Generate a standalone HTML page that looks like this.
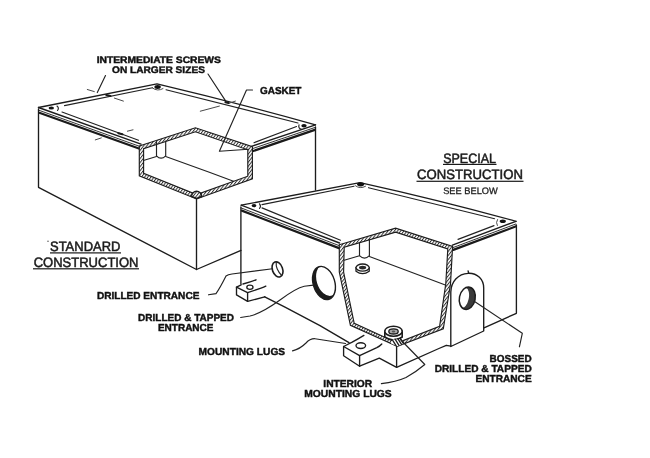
<!DOCTYPE html>
<html>
<head>
<meta charset="utf-8">
<title>Construction diagram</title>
<style>
html,body{margin:0;padding:0;background:#fff;}
body{width:650px;height:458px;overflow:hidden;font-family:"Liberation Sans",sans-serif;}
svg{display:block;filter:grayscale(1);}
.l{fill:none;stroke:#1c1c1c;stroke-width:1.35;stroke-linecap:round;stroke-linejoin:round;}
.t{fill:none;stroke:#222;stroke-width:1.15;stroke-linecap:round;stroke-linejoin:round;}
.f{fill:none;stroke:#484848;stroke-width:1.0;stroke-linecap:round;}
.g{fill:none;stroke:#333;stroke-width:1.0;stroke-linecap:round;}
.k{fill:none;stroke:#1a1a1a;stroke-width:2.2;stroke-linecap:round;stroke-linejoin:round;}
.ring{fill:url(#h);fill-rule:evenodd;stroke:#1c1c1c;stroke-width:1.15;stroke-linejoin:miter;}
.band{fill:none;stroke:#222;stroke-width:3.4;stroke-linejoin:miter;}
.hatch{fill:none;stroke:#fff;stroke-width:1.4;stroke-dasharray:2 1.4;stroke-linejoin:miter;}
.b{font-family:"Liberation Sans",sans-serif;font-weight:bold;font-size:10.1px;fill:#111;stroke:#111;stroke-width:0.42;text-rendering:geometricPrecision;}
.c{font-family:"Liberation Sans",sans-serif;font-weight:normal;font-size:13.6px;fill:#1a1a1a;stroke:#1a1a1a;stroke-width:0.5;text-rendering:geometricPrecision;}
.s{font-family:"Liberation Sans",sans-serif;font-weight:normal;font-size:9.4px;fill:#222;stroke:#222;stroke-width:0.3;text-rendering:geometricPrecision;}
</style>
</head>
<body>
<svg width="650" height="458" viewBox="0 0 650 458">
<rect width="650" height="458" fill="#fff"/>
<defs>
  <pattern id="h" width="2.5" height="2.5" patternUnits="userSpaceOnUse" patternTransform="rotate(38)">
    <rect width="2.5" height="2.5" fill="#fff"/>
    <line x1="0.5" y1="0" x2="0.5" y2="2.5" stroke="#2a2a2a" stroke-width="0.95"/>
  </pattern>
</defs>

<!-- ================= LEFT BOX ================= -->
<g id="leftbox">
  <!-- lid outer edges -->
  <path class="l" d="M38.5 107.5 L157 83.9 Q236 102.6 315.5 124.8"/>
  <path class="l" d="M38.5 107.5 L141 144.2"/>
  <path class="l" d="M315.5 124.8 L251.5 146.3"/>
  <!-- lid thickness front-left -->
  <path class="g" d="M38.7 110.2 L140 146.5"/>
  <path class="k" d="M39.3 112.8 L139.6 148.7"/>
  <!-- lid thickness front-right -->
  <path class="g" d="M315.2 127.4 L252.6 148.6"/>
  <path class="k" d="M314.8 129.9 L253.2 151"/>
  <!-- inner lid lines -->
  <path class="t" d="M64.5 105.6 L152.5 87.8"/>
  <path class="t" d="M166 89.8 L298 123"/>
  <path class="t" d="M62 112 L138.5 140.3"/>
  <path class="t" d="M296.5 126.5 L254 142.7"/>
  <!-- body -->
  <path class="l" d="M38.5 109 L38.5 187.3 L196.5 269.5 L241 250.4"/>
  <path class="l" d="M196.5 199 L196.5 269.5"/>
  <path class="l" d="M315.5 127 L315.5 190"/>
  <!-- cutaway band -->
  <path class="ring" d="M139.3 146 L195.4 127.8 L252.4 146.6 L252.4 178.8 L196.6 199 L139.3 175.8 Z M143.6 148.6 L143.6 173.4 L196.6 194.6 L247.8 176.2 L247.8 149.8 L195.4 131.8 Z"/>
  <!-- interior -->
  <path class="t" d="M156.5 142.3 L156.5 155.8 Q161 160.5 165.7 155.8 L165.7 141"/>
  <path class="t" d="M144.2 160.2 L156.5 156.5"/>
  <path class="t" d="M165.7 156.5 L210 172.5 L233.5 181.2"/>
  <!-- front inner fillet -->
  <path d="M191.6 196.5 A5 5.2 0 0 1 201.6 196.5 L196.6 198.5 Z" fill="url(#h)" stroke="#1c1c1c" stroke-width="1.4"/>
  <!-- screws -->
  <ellipse cx="51.3" cy="108" rx="2.7" ry="1.6" fill="#111"/>
  <path class="t" d="M57 106 Q59.5 108 57.5 110.5"/>
  <ellipse cx="157.6" cy="87" rx="3.2" ry="1.9" fill="#111"/>
  <path class="f" d="M152.5 88 Q157.5 91.8 163 88.6"/>
  <ellipse cx="304" cy="125.8" rx="2.7" ry="1.8" fill="#111"/>
  <path class="t" d="M299 124.8 Q298 128.3 301.5 129.3"/>
</g>

<!-- centre-line marks, leaders for top labels -->
<g id="leaders-top">
  <path class="t" d="M105.5 75.5 L97.3 92.6"/>
  <path class="f" d="M87.3 89.5 L94.3 91.6 M114.4 98.1 L123.4 101.1"/>
  <path class="k" d="M106.3 95 L110.4 96"/>
  <path class="f" d="M95.3 139.9 L101.3 137.9 M127.4 131.2 L133 129.8"/>
  <path class="k" d="M118.4 133.3 L122.4 134.2"/>
  <path class="t" d="M208 74 L226.4 102.1"/>
  <path class="f" d="M200.3 111.2 L219.4 106.1 M229.4 103.1 L235.4 101.1"/>
  <path class="k" d="M225.5 102.2 L228.5 103"/>
  <!-- gasket leader -->
  <path class="t" d="M252.5 90 L246.5 90 L219.4 151.3 L248.5 149.3"/>
</g>

<!-- ================= RIGHT BOX ================= -->
<g id="rightbox">
  <!-- lid -->
  <path class="l" d="M241.2 205.2 L360 182.6 Q438 199.8 516 221.3"/>
  <path class="l" d="M241.2 205.2 L339.5 243"/>
  <path class="l" d="M516 221.3 L452.4 245.2"/>
  <path class="g" d="M241.3 208 L339.3 245.7"/>
  <path class="k" d="M241.8 210.6 L339 248.1"/>
  <path class="g" d="M515.8 224 L453 247.6"/>
  <path class="k" d="M515.5 226.5 L453.3 249.9"/>
  <!-- inner lid -->
  <path class="t" d="M262 204.6 L354 186.2"/>
  <path class="t" d="M368.5 187.7 L494.6 218.7"/>
  <path class="t" d="M262 207.9 L340.5 240.2"/>
  <path class="t" d="M494 225.6 L458 239.4"/>
  <!-- body -->
  <path class="l" d="M240.9 207 L240.9 284"/>
  <path class="l" d="M516.4 225 L516.4 313.3 L484 327.8"/>
  <path class="l" d="M264.7 296.8 L285 307.2 L320 325.6 L349 342.6"/>
  <path class="l" d="M450.8 346.2 L446.3 345.3 L438.9 348.5 L396.6 367.3"/>
  <!-- cutaway band -->
  <path class="ring" d="M339.3 244.8 L395.6 228.2 L452.6 246.5 L450.5 284 L443.3 328.8 L397.3 346.3 L350.4 325.3 L339.3 272 Z M344.2 247.2 L343.6 272 L354.2 323.3 L397.3 342.9 L439.6 326.3 L445.8 283.5 L447.8 248.9 L395.6 232.2 Z"/>
  <!-- interior -->
  <path class="t" d="M359.5 242.3 L359.5 255.6 Q364.5 260.6 369.4 255.6 L369.4 239.4"/>
  <path class="t" d="M344.2 260.2 L359.5 255.8"/>
  <path class="t" d="M369.4 256.5 L446 285.2"/>
  <!-- interior nut 1 -->
  <g>
    <path d="M356 267.6 L356 271.2 Q362.6 276 369.2 271.2 L369.2 267.6 Z" fill="#fff" stroke="#1c1c1c" stroke-width="1.3"/>
    <ellipse cx="362.6" cy="267.6" rx="6.6" ry="3.6" fill="#fff" stroke="#1c1c1c" stroke-width="1.3"/>
    <ellipse cx="362.6" cy="267.6" rx="3.6" ry="1.9" fill="#2a2a2a"/>
  </g>
  <!-- interior nut 2  -->
  <g>
    <path d="M384.8 331.2 L384.8 337 Q393.5 343 402.2 337 L402.2 331.2 Z" fill="#fff" stroke="#1c1c1c" stroke-width="1.6"/>
    <ellipse cx="393.5" cy="331.2" rx="8.7" ry="5" fill="#fff" stroke="#1c1c1c" stroke-width="1.6"/>
    <ellipse cx="393.5" cy="331.4" rx="4.7" ry="2.6" fill="#aaa" stroke="#1c1c1c" stroke-width="1.3"/>
    <ellipse cx="393.5" cy="331.6" rx="1.8" ry="1" fill="#555"/>
  </g>
  <!-- hatch corner -->
  <path d="M392.5 339.6 L401.8 339.2 L403.5 343.8 L397.3 346.3 L391 343.6 Z" fill="#fff"/>
  <path class="l" d="M392.5 340 L396 345.6 M395 339 L399 345.4 M397.8 338.6 L401.5 344.4 M400.5 338.6 L403.3 343.4"/>
  <!-- screws -->
  <ellipse cx="254" cy="205.6" rx="2.4" ry="1.6" fill="#111"/>
  <path class="t" d="M259.5 203.8 Q261.5 206 259.5 208.5"/>
  <ellipse cx="360.6" cy="184.3" rx="3.5" ry="2.1" fill="#111"/>
  <path class="f" d="M355.5 185.8 Q360 189.3 365.5 186.3"/>
  <ellipse cx="502.8" cy="221.3" rx="3.1" ry="1.8" fill="#111"/>
  <path class="f" d="M497.5 219.5 Q495.5 222.5 497.3 225.5"/>

  <!-- small drilled hole -->
  <ellipse cx="277.5" cy="269.4" rx="5.1" ry="7.8" transform="rotate(-20 277.5 269.4)" fill="none" stroke="#1c1c1c" stroke-width="1.6"/>
  <path class="t" d="M276.2 262.2 Q275.5 269 281.8 275.6"/>
  <!-- large tapped hole -->
  <clipPath id="c1"><ellipse cx="324" cy="283" rx="10.8" ry="17"/></clipPath>
  <g transform="rotate(-17 324 283)">
    <ellipse cx="324" cy="283" rx="10.8" ry="17" fill="#1c1c1c"/>
    <ellipse cx="328" cy="281.2" rx="10.6" ry="16.2" fill="#fff" clip-path="url(#c1)"/>
    <ellipse cx="324" cy="283" rx="10.8" ry="17" fill="none" stroke="#1c1c1c" stroke-width="1.4"/>
  </g>

  <!-- left small lug -->
  <path class="l" d="M241.2 284.8 L236.5 287.1 L247.6 292.6 L261 288.2 Q264 287.2 265.8 286.2"/>
  <path class="l" d="M236.5 287.1 L236.5 294.9 L247.6 301.4 L247.6 292.6"/>
  <path class="l" d="M247.6 301.4 L264.7 296.8"/>
  <path class="l" d="M243 284 Q251 281.8 256 279.8"/>
  <ellipse cx="249.9" cy="287.2" rx="3.1" ry="2.1" fill="none" stroke="#1c1c1c" stroke-width="1.3"/>

  <!-- front lug -->
  <path class="l" d="M363.9 335.4 Q358 339 352.2 342.2 L343.6 346.5 L359.6 355.7 L376.8 347.7 Q380 346 381.8 344"/>
  <path class="l" d="M343.6 346.5 L343.6 355.7 L359.6 366.2 L359.6 355.7"/>
  <path class="l" d="M359.6 366.2 L379.3 358.2 L396.6 367.4 L396.6 346.5"/>
  <ellipse class="l" cx="360.8" cy="345.6" rx="4.8" ry="2.9"/>

  <!-- boss -->
  <path class="l" d="M450.8 346.5 L450.8 292 C451 282 458 273.6 468.2 273.3 C477.5 273 483.7 279.5 483.7 288 L483.7 331 Z" fill="#fff"/>
  <path class="l" d="M468.1 270.9 L468.6 273.2"/>
  <clipPath id="c2"><ellipse cx="467.3" cy="298.2" rx="7.9" ry="11.3"/></clipPath>
  <g transform="rotate(12 467.3 298.2)">
    <ellipse cx="467.3" cy="298.2" rx="7.9" ry="11.3" fill="#3a3a3a"/>
    <ellipse cx="463.9" cy="298.8" rx="4.9" ry="10.2" fill="#fff" clip-path="url(#c2)"/>
    <ellipse cx="467.3" cy="298.2" rx="7.9" ry="11.3" fill="none" stroke="#1c1c1c" stroke-width="1.5"/>
  </g>
</g>

<!-- leaders bottom -->
<g id="leaders-bottom">
  <path class="t" d="M208.5 294.8 L216 293.6 Q220 288 226 276 Q228 274.5 232 274 L272.6 268.7"/>
  <path class="t" d="M240.6 317.5 L250 316 Q262 313 280 300 Q296 288 304.3 286.2 L313.4 285.1"/>
  <path class="t" d="M292.5 350.9 Q300 349 306 343 Q310 338.5 315 338.7 L345.6 343.5"/>
  <path class="t" d="M381.4 383.6 Q396 382 406 377.5 Q416 372 424.8 364.5 L400.5 339.5"/>
  <path class="t" d="M474.2 301.2 L522.3 333.3 L519.4 346.8"/>
</g>

<!-- ================= TEXT ================= -->
<g id="text">
  <text class="b" style="font-size:9.4px" x="96.7" y="62.6" textLength="124.2" lengthAdjust="spacingAndGlyphs">INTERMEDIATE SCREWS</text>
  <text class="b" style="font-size:9.6px" x="112" y="72.7" textLength="92.9" lengthAdjust="spacingAndGlyphs">ON LARGER SIZES</text>
  <text class="b" x="260" y="94" textLength="41.4" lengthAdjust="spacingAndGlyphs">GASKET</text>

  <text class="b" x="96.9" y="299" textLength="102.5" lengthAdjust="spacingAndGlyphs">DRILLED ENTRANCE</text>
  <text class="b" x="138.1" y="320.7" textLength="95.9" lengthAdjust="spacingAndGlyphs">DRILLED &amp; TAPPED</text>
  <text class="b" x="157.9" y="330.6" textLength="55.6" lengthAdjust="spacingAndGlyphs">ENTRANCE</text>
  <text class="b" x="198.6" y="354.7" textLength="86.5" lengthAdjust="spacingAndGlyphs">MOUNTING LUGS</text>
  <text class="b" x="323.3" y="386.5" textLength="48.9" lengthAdjust="spacingAndGlyphs">INTERIOR</text>
  <text class="b" x="304.3" y="396.9" textLength="87.4" lengthAdjust="spacingAndGlyphs">MOUNTING LUGS</text>
  <text class="b" x="489.6" y="362" textLength="42.1" lengthAdjust="spacingAndGlyphs">BOSSED</text>
  <text class="b" x="434.7" y="372.2" textLength="97" lengthAdjust="spacingAndGlyphs">DRILLED &amp; TAPPED</text>
  <text class="b" x="475.4" y="382.1" textLength="56.3" lengthAdjust="spacingAndGlyphs">ENTRANCE</text>

  <circle cx="48" cy="241.2" r="0.7" fill="#444"/>
  <text class="c" x="50" y="251.2" textLength="70.4" lengthAdjust="spacingAndGlyphs">STANDARD</text>
  <rect x="50" y="252.3" width="71" height="1.2" fill="#1a1a1a"/>
  <text class="c" x="33.7" y="267.3" textLength="104.8" lengthAdjust="spacingAndGlyphs">CONSTRUCTION</text>
  <rect x="33" y="268.2" width="106" height="1.2" fill="#1a1a1a"/>

  <text class="c" x="443.2" y="162.9" textLength="52.8" lengthAdjust="spacingAndGlyphs">SPECIAL</text>
  <rect x="443" y="163.8" width="53.5" height="1.2" fill="#1a1a1a"/>
  <text class="c" x="417" y="179.3" textLength="105.9" lengthAdjust="spacingAndGlyphs">CONSTRUCTION</text>
  <rect x="416.5" y="180.7" width="107" height="1.2" fill="#1a1a1a"/>
  <text class="s" x="443.2" y="193.8" textLength="54.6" lengthAdjust="spacingAndGlyphs">SEE BELOW</text>
</g>
</svg>
</body>
</html>
